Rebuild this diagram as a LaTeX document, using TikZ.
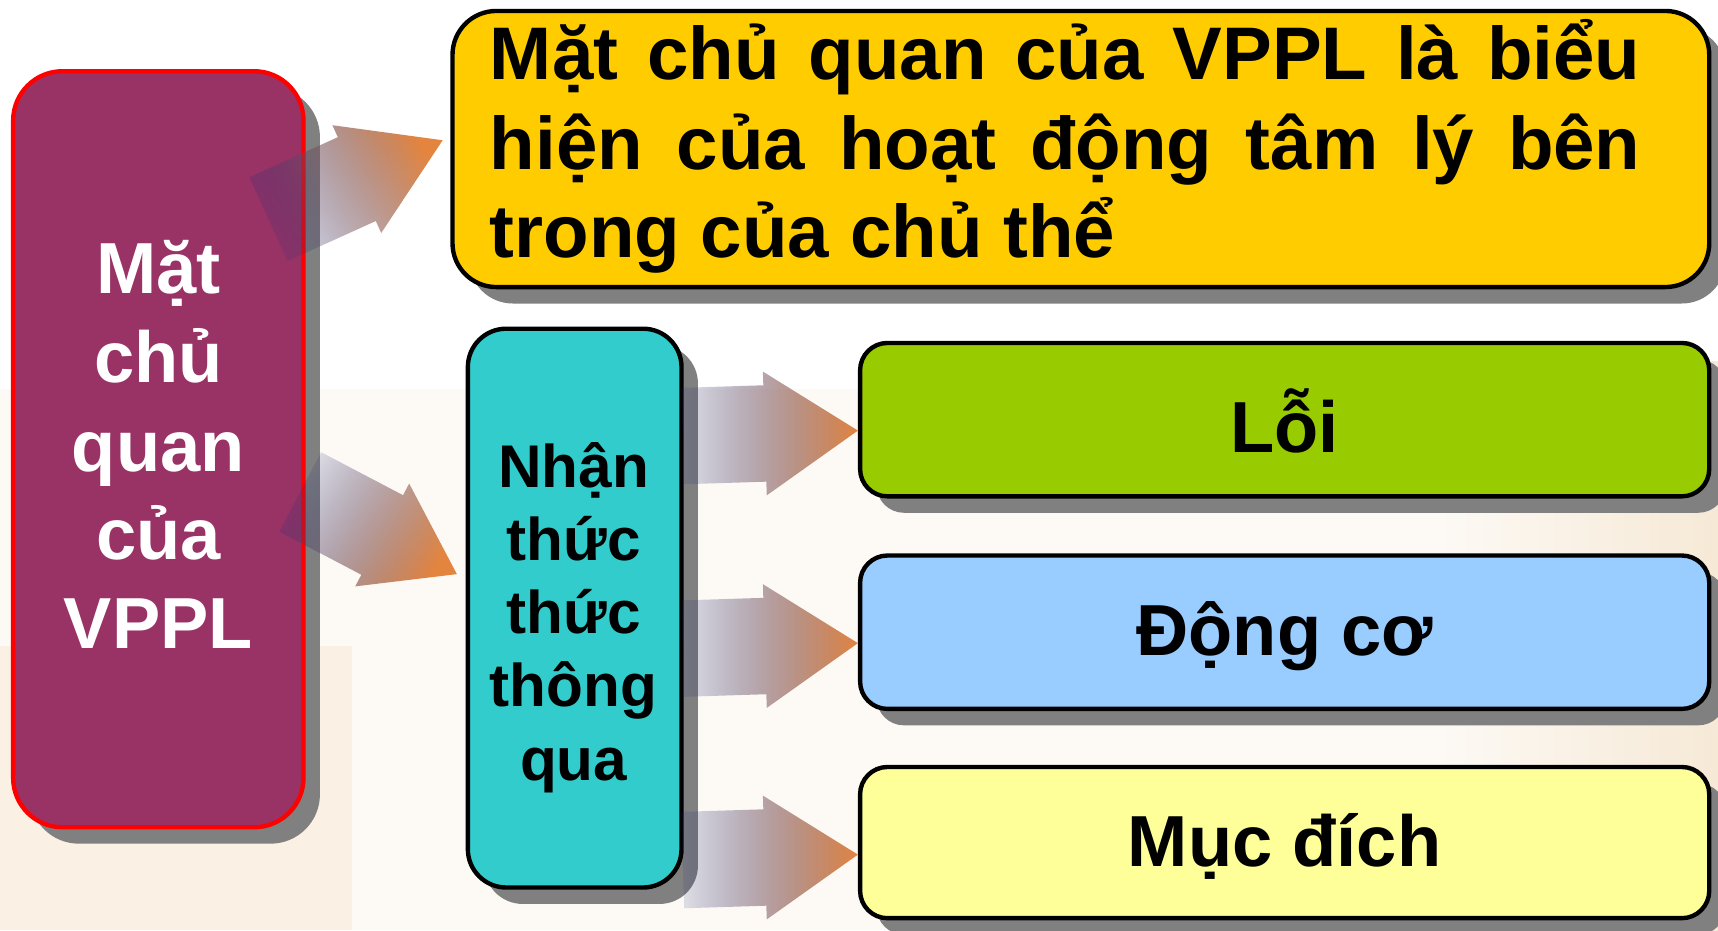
\documentclass[tikz,border=0pt]{standalone}
\usepackage{fontspec}
\setmainfont{Liberation Sans}
\usetikzlibrary{calc,shadows,fadings}

\definecolor{boxpurple}{HTML}{993366}
\definecolor{boxyellow}{HTML}{FFCC00}
\definecolor{boxcyan}{HTML}{33CCCC}
\definecolor{boxgreen}{HTML}{99CC00}
\definecolor{boxblue}{HTML}{99CCFF}
\definecolor{boxpale}{HTML}{FFFF99}
\definecolor{shadowgray}{HTML}{808080}
\definecolor{arrowtail}{HTML}{1A2A78}
\definecolor{arrowtip}{HTML}{E3843F}
\definecolor{bgcream}{HTML}{FDFAF6}
\definecolor{bgbeige}{HTML}{FAF0E3}
\definecolor{bgwarm}{HTML}{F6E9D6}

% the block arrows grow from nearly clear at the tail to solid at the tip
\tikzfading[name=tailfade, left color=transparent!88, right color=transparent!0]

\tikzset{
  box/.style={draw=black, line width=4pt, rectangle, inner sep=0pt,
    drop shadow={shadow xshift=15pt, shadow yshift=-15pt, fill=shadowgray, opacity=1}},
  linetext/.style={font=\bfseries\fontsize{68}{81}\selectfont, inner sep=0pt, anchor=base west},
  stacktext/.style={inner sep=0pt, anchor=base},
  itemtext/.style={font=\bfseries\fontsize{66}{80}\selectfont, inner sep=0pt, anchor=base},
  blockarrow/.style={left color=arrowtail, right color=arrowtip,
    path fading=tailfade, draw=none},
}

% block arrow: #1 tail, #2 tip, #3 head length, #4 head half width,
% #5 shaft half width, #6 extra options (shading and fading direction)
\newcommand\blockarrow[6]{%
  \coordinate (ba-h) at ($(#2)!#3!(#1)$);
  \path[blockarrow,#6]
    ($(#1)!#5!90:(#2)$) -- ($(ba-h)!#5!-90:(#1)$) -- ($(ba-h)!#4!-90:(#1)$) -- (#2)
    -- ($(ba-h)!#4!90:(#1)$) -- ($(ba-h)!#5!90:(#1)$) -- ($(#1)!#5!-90:(#2)$) -- cycle;
}

\begin{document}
\begin{tikzpicture}[x=1pt, y=-1pt]
\useasboundingbox (0,0) rectangle (1568,849);

% page background
\fill[white] (0,0) rectangle (1568,849);
\fill[bgcream] (0,355) rectangle (1568,849);
\fill[bgbeige] (0,590) rectangle (321,849);
\shade[left color=bgcream, right color=bgwarm] (1300,330) rectangle (1568,849);

% boxes
\node[box, draw=red, fill=boxpurple, rounded corners=45pt,
      minimum width=265pt, minimum height=690pt] (subj) at (144.5,410) {};
\node[box, fill=boxyellow, rounded corners=40pt,
      minimum width=1147pt, minimum height=252pt] (def) at (986.5,136) {};
\node[box, fill=boxcyan, rounded corners=35pt,
      minimum width=195pt, minimum height=510pt] (cog) at (524.5,555) {};
\node[box, fill=boxgreen, rounded corners=25pt,
      minimum width=775pt, minimum height=140pt] (fault) at (1172.5,383) {};
\node[box, fill=boxblue, rounded corners=25pt,
      minimum width=775pt, minimum height=140pt] (motive) at (1172.5,577) {};
\node[box, fill=boxpale, rounded corners=25pt,
      minimum width=775pt, minimum height=138pt] (aim) at (1172.5,769) {};

% connectors
\coordinate (t1) at ($(subj.center)+(100.5,-210)$);
\coordinate (h1) at ($(def.west)+(-7,-8)$);
\blockarrow{t1}{h1}{86pt}{54pt}{42pt}{shading angle=114, fading angle=24}
\coordinate (t2) at ($(subj.center)+(129.5,39)$);
\coordinate (h2) at ($(cog.west)+(-8,-31)$);
\blockarrow{t2}{h2}{77pt}{53pt}{41pt}{shading angle=63, fading angle=-27}
\coordinate (t3) at ($(cog.east)+(-1,-157)$);
\coordinate (h3) at ($(fault.west)+(0,10)$);
\blockarrow{t3}{h3}{85pt}{56.5pt}{44pt}{}
\coordinate (t4) at ($(cog.east)+(-1,37)$);
\coordinate (h4) at ($(motive.west)+(0,10)$);
\blockarrow{t4}{h4}{85pt}{56.5pt}{44pt}{}
\coordinate (t5) at ($(cog.east)+(-1,230)$);
\coordinate (h5) at ($(aim.west)+(0,11)$);
\blockarrow{t5}{h5}{85pt}{56.5pt}{44pt}{}

% texts
\node[linetext] (def1) at (447,73) {\makebox[1050pt][s]{Mặt chủ quan của VPPL là biểu}};
\node[linetext] (def2) at (447,155) {\makebox[1050pt][s]{hiện của hoạt động tâm lý bên}};
\node[linetext] (def3) at (447,235) {trong của chủ thể};

\node[stacktext, text=white, font=\bfseries\fontsize{66}{81}\selectfont] (subjtext) at (144.5,268)
  {\begin{tabular}[t]{@{}c@{}}Mặt\\chủ\\quan\\của\\VPPL\end{tabular}};
\node[stacktext, font=\bfseries\fontsize{55}{66.75}\selectfont] (cogtext) at (523.5,445)
  {\begin{tabular}[t]{@{}c@{}}Nhận\\thức\\thức\\thông\\qua\end{tabular}};

\node[itemtext] (faulttext) at (1172.5,413) {Lỗi};
\node[itemtext] (motivetext) at (1172.5,598) {Động cơ};
\node[itemtext] (aimtext) at (1172.5,791) {Mục đích};
\end{tikzpicture}
\end{document}
